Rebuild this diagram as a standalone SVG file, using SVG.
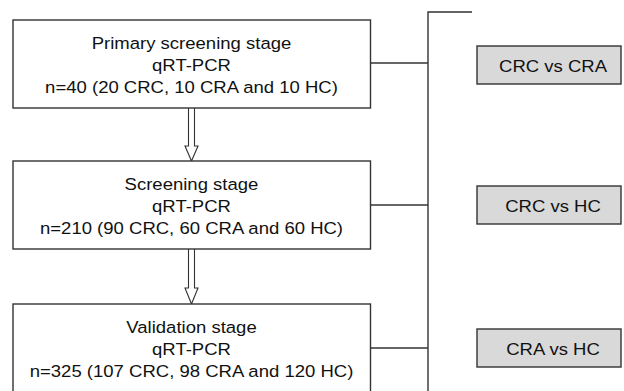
<svg xmlns="http://www.w3.org/2000/svg" width="624" height="391" viewBox="0 0 624 391">
<style>
.box{fill:#fff;stroke:#333;stroke-width:1.4}
.cmp{fill:#d9d9d9;stroke:#333;stroke-width:1.4}
.t{font-family:"Liberation Sans",Arial,sans-serif;font-size:17px;fill:#111;text-anchor:middle}
.ln{fill:none;stroke:#333;stroke-width:1.4}
.arr{fill:#fff;stroke:#333;stroke-width:1.1}
</style>
<rect width="624" height="391" fill="#fff"/>
<g id="connectors">
<path class="ln" d="M472,12 H428 V391"/>
<path class="ln" d="M370.5,63 H428"/>
<path class="ln" d="M370.5,205 H428"/>
<path class="ln" d="M370.5,348 H428"/>
<path class="arr" d="M188.5,108 V146 H185 L191.5,161 L198,146 H194.5 V108"/>
<path class="arr" d="M188.5,249 V288 H185 L191.5,304 L198,288 H194.5 V249"/>
</g>
<g id="primary">
<rect class="box" x="13" y="20" width="357.5" height="88"/>
<g transform="translate(191.5,0) scale(1.09,1)">
<text class="t" x="0" y="49">Primary screening stage</text>
<text class="t" x="0" y="71.5">qRT-PCR</text>
<text class="t" x="0" y="93.5">n=40 (20 CRC, 10 CRA and 10 HC)</text>
</g>
</g>
<g id="screening">
<rect class="box" x="13" y="161" width="357.5" height="88"/>
<g transform="translate(191.5,0) scale(1.09,1)">
<text class="t" x="0" y="190">Screening stage</text>
<text class="t" x="0" y="212.5">qRT-PCR</text>
<text class="t" x="0" y="234.5">n=210 (90 CRC, 60 CRA and 60 HC)</text>
</g>
</g>
<g id="validation">
<rect class="box" x="13" y="304" width="357.5" height="100"/>
<g transform="translate(191.5,0) scale(1.09,1)">
<text class="t" x="0" y="333">Validation stage</text>
<text class="t" x="0" y="355.5">qRT-PCR</text>
<text class="t" x="0" y="377.5">n=325 (107 CRC, 98 CRA and 120 HC)</text>
</g>
</g>
<g id="crc-cra">
<rect class="cmp" x="477" y="46" width="144" height="38"/>
<text class="t" transform="translate(553,71.5) scale(1.09,1)">CRC vs CRA</text>
</g>
<g id="crc-hc">
<rect class="cmp" x="477" y="186" width="144" height="38"/>
<text class="t" transform="translate(553,211.5) scale(1.09,1)">CRC vs HC</text>
</g>
<g id="cra-hc">
<rect class="cmp" x="477" y="329" width="144" height="38"/>
<text class="t" transform="translate(553,354.5) scale(1.09,1)">CRA vs HC</text>
</g>
</svg>
